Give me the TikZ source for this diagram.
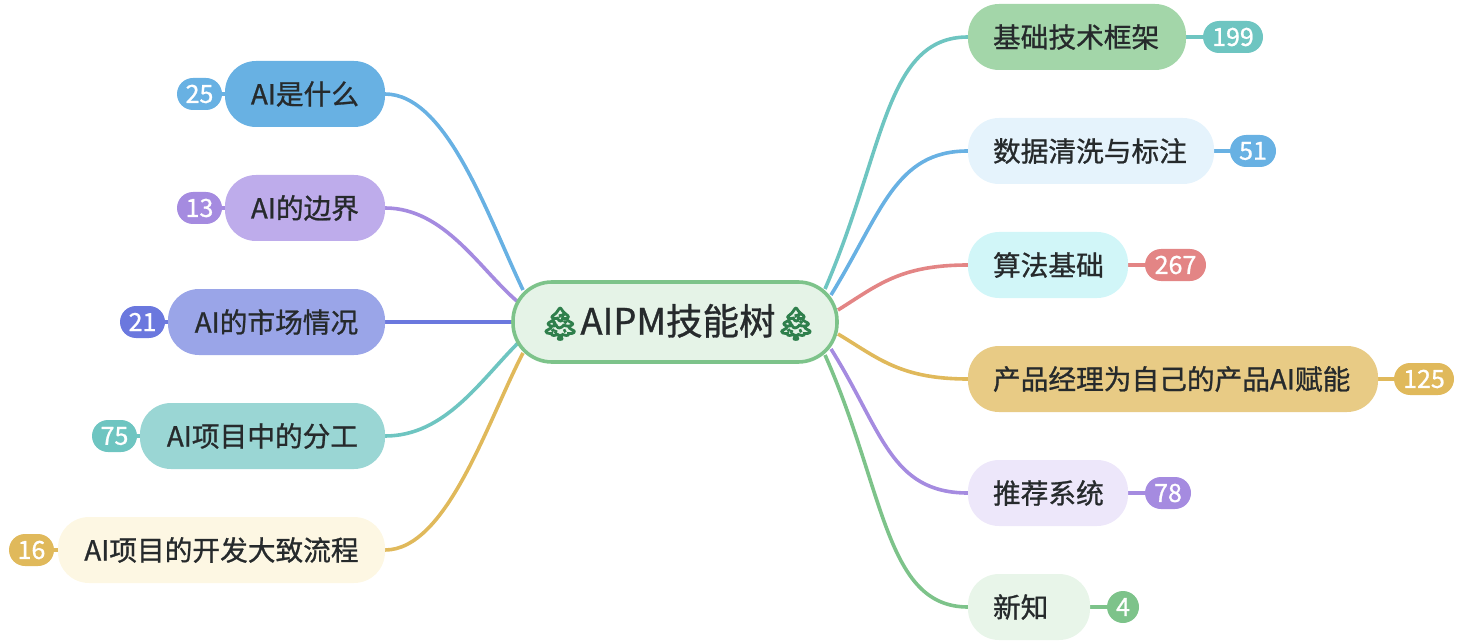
\documentclass[tikz,border=0pt]{standalone}
\usepackage{fontspec}
\usepackage{xcolor}
\usepackage{tikz}
\usetikzlibrary{backgrounds}
\setmainfont{Noto Sans CJK SC}[FakeBold=0.9]
\newfontfamily\emojifont{Noto Emoji}[FakeBold=5]
\definecolor{ink}{HTML}{262A2C}
\definecolor{treegreen}{HTML}{2F7F4C}
\definecolor{rootfill}{HTML}{E5F3E7}
\definecolor{lgreen}{HTML}{7DC38A}
\definecolor{lteal}{HTML}{6EC5C1}
\definecolor{lblue}{HTML}{68B1E3}
\definecolor{lred}{HTML}{E38585}
\definecolor{lgold}{HTML}{E0B95B}
\definecolor{lpurple}{HTML}{A58BE0}
\definecolor{lindigo}{HTML}{6B78DE}
\definecolor{fblue}{HTML}{68B1E3}
\definecolor{fpurple}{HTML}{BEACEB}
\definecolor{findigo}{HTML}{9AA5E8}
\definecolor{fteal}{HTML}{9AD6D4}
\definecolor{fcream}{HTML}{FDF7E3}
\definecolor{fgreen}{HTML}{A3D6A9}
\definecolor{fsky}{HTML}{E5F3FC}
\definecolor{fcyan}{HTML}{D1F6F8}
\definecolor{fgold}{HTML}{E8CB85}
\definecolor{flav}{HTML}{EDE7FA}
\definecolor{fmint}{HTML}{E8F5E9}
\tikzset{
  topic/.style={rectangle,rounded corners=31pt,minimum height=66pt,inner sep=0pt,outer sep=0pt,text=ink,font=\fontsize{27.7pt}{30pt}\selectfont},
  count/.style={rectangle,rounded corners=16pt,minimum height=32pt,inner sep=0pt,outer sep=0pt,text=white,font=\fontsize{25pt}{27pt}\selectfont},
  branch/.style={line width=3.6pt}
}
\begin{document}
\begin{tikzpicture}[x=1pt,y=-1pt]
  \useasboundingbox (0,0) rectangle (1463,644);
  \node[rectangle,rounded corners=39pt,draw=lgreen,line width=3.6pt,fill=rootfill,minimum width=324pt,minimum height=80pt,inner sep=0pt,text=ink,font=\fontsize{36.5pt}{39pt}\selectfont] (root) at (675,322) {\hspace*{6pt}\textcolor{treegreen}{\emojifont\fontsize{32pt}{34pt}\selectfont 🌲}AIPM技能树\textcolor{treegreen}{\emojifont\fontsize{32pt}{34pt}\selectfont 🌲}};
  % left side
  \foreach \name/\cx/\wid/\cy/\fillc/\linec/\txt/\num/\bx/\bw/\sx/\sy/\ax/\ay/\bbx in {
    what/305/160/94/fblue/lblue/AI是什么/25/199.5/45/523/290/488/217/447,
    edge/305/160/208/fpurple/lpurple/AI的边界/13/199.5/45/518/302/480/270/445,
    market/276.5/217/322/findigo/lindigo/AI的市场情况/21/142.5/45/512/322/460/322/440,
    roles/262.5/245/436/fteal/lteal/AI项目中的分工/75/114.5/45/518/343/480/381/445,
    flow/221.5/327/550/fcream/lgold/AI项目的开发大致流程/16/31.5/45/523/353/488/420/447}{
    \node[topic,fill=\fillc,minimum width=\wid pt] (\name) at (\cx,\cy) {\txt};
    \node[count,fill=\linec,minimum width=\bw pt] (\name n) at (\bx,\cy) {\num};
    \coordinate (\name s) at (\sx,\sy);
    \begin{pgfonlayer}{background}
      \draw[branch,\linec] (\name s) .. controls (\ax,\ay) and (\bbx,\cy) .. (\name.east);
      \draw[branch,\linec] (\name.west) -- (\name n.east);
    \end{pgfonlayer}
  }
  % right side
  \foreach \name/\cx/\wid/\cy/\fillc/\linec/\txt/\num/\bx/\bw/\sx/\sy/\ax/\ay/\bbx in {
    base/1077/218/37/fgreen/lteal/基础技术框架/199/1233/60/825/289/885/150/885,
    data/1091/246/151/fsky/lblue/数据清洗与标注/51/1253/46/831/295/882/212/895,
    algo/1048/160/265/fcyan/lred/算法基础/267/1175.5/61/838/310/878/285/900,
    pm/1173/410/379/fgold/lgold/产品经理为自己的产品AI赋能/125/1424/60/838/334/878/358/900,
    rec/1048/160/493/flav/lpurple/推荐系统/78/1168/46/831/349/882/430/890,
    news/1029/122/607/fmint/lgreen/新知/4/1123/32/825/355/885/490/885}{
    \node[topic,fill=\fillc,minimum width=\wid pt,text width=\wid pt-50pt,align=left] (\name) at (\cx,\cy) {\txt};
    \node[count,fill=\linec,minimum width=\bw pt] (\name n) at (\bx,\cy) {\num};
    \coordinate (\name s) at (\sx,\sy);
    \begin{pgfonlayer}{background}
      \draw[branch,\linec] (\name s) .. controls (\ax,\ay) and (\bbx,\cy) .. (\name.west);
      \draw[branch,\linec] (\name.east) -- (\name n.west);
    \end{pgfonlayer}
  }
\end{tikzpicture}
\end{document}
